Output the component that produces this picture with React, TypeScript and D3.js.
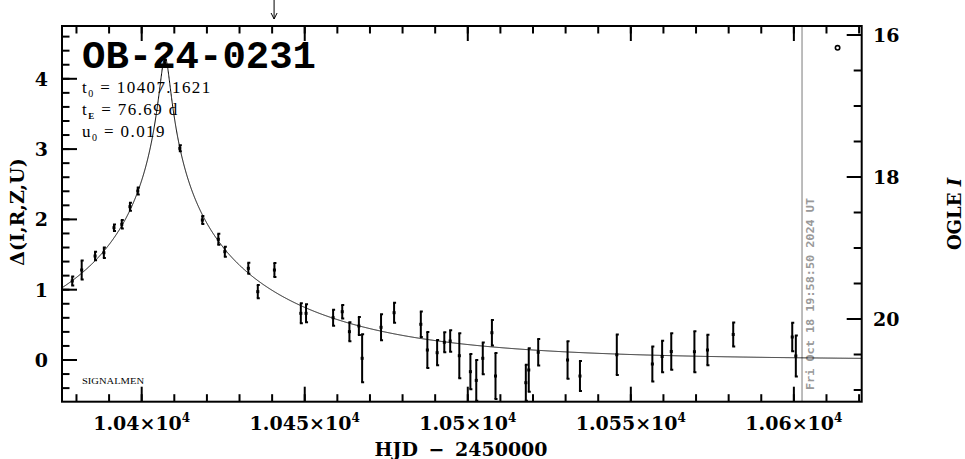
import React from 'react';
import * as d3 from 'd3';

const W = 965;
const H = 459;

// model parameters (as printed on the chart)
const T0 = 10407.1621;
const TE = 76.69;
const U0 = 0.019;

// observations
const hjd = [
  10378.7, 10381.6, 10385.7, 10388.4, 10391.5, 10393.9, 10396.4, 10398.8, 10407.1, 10411.7,
  10418.6, 10423.5, 10425.5, 10432.7, 10435.6, 10440.7, 10448.8, 10450.4, 10458.7, 10461.5,
  10463.7, 10466.6, 10467.6, 10473.4, 10477.4, 10485.6, 10487.6, 10490.6, 10492.8, 10494.6,
  10497.4, 10500.8, 10502.6, 10504.6, 10507.4, 10508.5, 10517.8, 10518.7, 10521.6, 10530.6,
  10534.4, 10545.7, 10556.6, 10559.6, 10562.4, 10569.5, 10573.5, 10581.4, 10599.5, 10600.6,
];
const delta = [
  1.124, 1.28, 1.479, 1.526, 1.882, 1.93, 2.181, 2.404, 4.225, 3.011,
  1.991, 1.717, 1.541, 1.304, 0.972, 1.28, 0.664, 0.664, 0.602, 0.687,
  0.403, 0.484, 0.024, 0.465, 0.673, 0.508, 0.142, 0.104, 0.252, 0.27,
  0.061, -0.166, -0.29, 0.024, 0.388, -0.228, -0.323, -0.142, 0.11, 0.0,
  -0.228, 0.075, -0.057, 0.05, 0.121, 0.118, 0.142, 0.363, 0.327, 0.057,
];
const err = [
  0.064, 0.135, 0.06, 0.074, 0.047, 0.061, 0.057, 0.05, 0.043, 0.043,
  0.057, 0.078, 0.071, 0.078, 0.095, 0.1, 0.142, 0.128, 0.114, 0.095,
  0.135, 0.128, 0.341, 0.185, 0.142, 0.182, 0.256, 0.18, 0.142, 0.152,
  0.32, 0.25, 0.29, 0.225, 0.18, 0.327, 0.256, 0.309, 0.19, 0.266,
  0.213, 0.289, 0.249, 0.225, 0.26, 0.292, 0.218, 0.171, 0.202, 0.292,
];

const xMajorTicks = [10400, 10450, 10500, 10550, 10600];
const xMajorLabels = ['1.04', '1.045', '1.05', '1.055', '1.06'];
const yMajorTicks = [0, 1, 2, 3, 4];
const iMajorTicks = [16, 18, 20];

const eventName = 'OB-24-0231';
const nowLabel = 'Fri Oct 18 19:58:50 2024 UT';
const nowHjd = 10602.5;
const arrowHjd = 10440.6;

const L = 62, R = 861.7, T = 26, B = 401.7;

function magnification(u: number) {
  return (u * u + 2) / (u * Math.sqrt(u * u + 4));
}

export default function App() {
  const x = d3.scaleLinear().domain([10375.56, 10620.8]).range([L, R]);
  const y = d3.scaleLinear().domain([-0.5932, 4.751]).range([B, T]);
  const yI = d3.scaleLinear().domain([16, 20]).range([35, 319]);

  const modelT = d3.range(10375.5, 10621, 0.05);
  const model = modelT.map((t) => {
    const tau = (t - T0) / TE;
    const u = Math.sqrt(U0 * U0 + tau * tau);
    return [t, 2.5 * Math.log10(magnification(u))] as [number, number];
  });
  const line = d3.line<[number, number]>().x((d) => x(d[0])).y((d) => y(d[1]));

  const xMinor = d3.range(10380, 10621, 10);
  const yMinor = d3.range(-0.4, 4.7, 0.2);
  const iMinor = d3.range(16, 21.01, 0.5);

  const serif = "'DejaVu Serif', serif";
  const thin = "'Liberation Serif', serif";
  const ptsData = hjd.map((t, i) => ({ t, d: delta[i], e: err[i] }));

  return (
    <svg width={W} height={H} style={{ position: 'absolute', left: 0, top: 0, background: '#fff' }}>
      <defs>
        <clipPath id="plotclip">
          <rect x={L} y={T} width={R - L} height={B - T} />
        </clipPath>
      </defs>
      <rect x={0} y={0} width={W} height={H} fill="#fff" />

      {/* now line */}
      <line x1={x(nowHjd)} x2={x(nowHjd)} y1={T} y2={B} stroke="#999" strokeWidth={1.3} />
      <text
        transform={`translate(${x(nowHjd) + 12},390) rotate(-90)`}
        fontFamily="'DejaVu Sans Mono', monospace"
        fontWeight="bold"
        fontSize={11}
        fill="#999"
        textLength={192}
        lengthAdjust="spacingAndGlyphs"
      >
        {nowLabel}
      </text>

      {/* model */}
      <g clipPath="url(#plotclip)">
        <path d={line(model) || ''} fill="none" stroke="#000" strokeWidth={1} />
        {ptsData.map((p, i) => {
          const cx = x(p.t);
          const y1 = y(p.d + p.e);
          const y2 = y(p.d - p.e);
          return (
            <g key={i} stroke="#000" strokeWidth={2}>
              <line x1={cx} x2={cx} y1={y1} y2={y2} />
              <line x1={cx - 1} x2={cx + 2} y1={y1} y2={y1} />
              <line x1={cx - 1} x2={cx + 2} y1={y2} y2={y2} />
              <rect x={cx - 1.5} y={y(p.d) - 1.5} width={3} height={3} fill="#000" stroke="none" />
            </g>
          );
        })}
      </g>

      {/* small open circle */}
      <circle cx={x(10613.4)} cy={y(4.44)} r={2.2} fill="none" stroke="#000" strokeWidth={1.6} />

      {/* frame */}
      <rect x={L} y={T} width={R - L} height={B - T} fill="none" stroke="#000" strokeWidth={2} />

      {/* ticks */}
      <g stroke="#000" strokeWidth={2}>
        {xMinor.map((t) => (
          <g key={t}>
            <line x1={x(t)} x2={x(t)} y1={B} y2={B - 7.5} />
            <line x1={x(t)} x2={x(t)} y1={T} y2={T + 7.5} />
          </g>
        ))}
        {xMajorTicks.map((t) => (
          <g key={t}>
            <line x1={x(t)} x2={x(t)} y1={B} y2={B - 15} />
            <line x1={x(t)} x2={x(t)} y1={T} y2={T + 15} />
          </g>
        ))}
        {yMinor.map((v) => (
          <line key={v} x1={L} x2={L + 7.5} y1={y(v)} y2={y(v)} />
        ))}
        {yMajorTicks.map((v) => (
          <line key={v} x1={L} x2={L + 15} y1={y(v)} y2={y(v)} />
        ))}
        {iMinor.map((v) => (
          <line key={v} x1={R} x2={R - 8} y1={yI(v)} y2={yI(v)} />
        ))}
        {iMajorTicks.map((v) => (
          <line key={v} x1={R} x2={R - 15} y1={yI(v)} y2={yI(v)} />
        ))}
      </g>

      {/* x tick labels */}
      {xMajorTicks.map((t, i) => (
        <text key={t} x={x(t)} y={430} textAnchor="middle" fontFamily={serif} fontWeight="bold" fontSize={19}>
          {xMajorLabels[i]}×10
          <tspan fontSize={12} dy={-8}>4</tspan>
        </text>
      ))}
      {/* y tick labels */}
      {yMajorTicks.map((v) => (
        <text key={v} x={48} y={y(v) + 7} textAnchor="end" fontFamily={serif} fontWeight="bold" fontSize={19}>
          {v}
        </text>
      ))}
      {iMajorTicks.map((v) => (
        <text key={v} x={873} y={yI(v) + 7} fontFamily={serif} fontWeight="bold" fontSize={19}>
          {v}
        </text>
      ))}

      {/* axis titles */}
      <text x={461} y={456} textAnchor="middle" fontFamily={serif} fontWeight="bold" fontSize={19} wordSpacing={4}>
        HJD − 2450000
      </text>
      <text transform="translate(24,212) rotate(-90)" textAnchor="middle" fontFamily={serif} fontWeight="bold" fontSize={19}>
        Δ(I,R,Z,U)
      </text>
      <text transform="translate(961,214) rotate(-90)" textAnchor="middle" fontFamily={serif} fontWeight="bold" fontSize={18}>
        OGLE <tspan fontStyle="italic">I</tspan>
      </text>

      {/* title & parameters */}
      <text x={82} y={68} fontFamily="'Liberation Mono', monospace" fontWeight="bold" fontSize={38} textLength={234} lengthAdjust="spacingAndGlyphs">
        {eventName}
      </text>
      <text x={82} y={93} fontFamily={thin} fontSize={17} letterSpacing={1.4}>
        t<tspan fontSize={10} dy={4}>0</tspan>
        <tspan dy={-4}> = {T0.toFixed(4)}</tspan>
      </text>
      <text x={82} y={115} fontFamily={thin} fontSize={17} letterSpacing={1.4}>
        t<tspan fontSize={9} fontWeight="bold" dy={4}>E</tspan>
        <tspan dy={-4}> = {TE.toFixed(2)} d</tspan>
      </text>
      <text x={82} y={137} fontFamily={thin} fontSize={17} letterSpacing={1.4}>
        u<tspan fontSize={10} dy={4}>0</tspan>
        <tspan dy={-4}> = {U0.toFixed(3)}</tspan>
      </text>
      <text x={82} y={384} fontFamily={thin} fontSize={9} textLength={62} lengthAdjust="spacingAndGlyphs">
        SIGNALMEN
      </text>

      {/* arrow */}
      <g stroke="#000" strokeWidth={1} fill="none">
        <line x1={x(arrowHjd)} x2={x(arrowHjd)} y1={0} y2={19} />
        <polyline points={`${x(arrowHjd) - 3},13 ${x(arrowHjd)},19 ${x(arrowHjd) + 3},13`} />
      </g>
    </svg>
  );
}
